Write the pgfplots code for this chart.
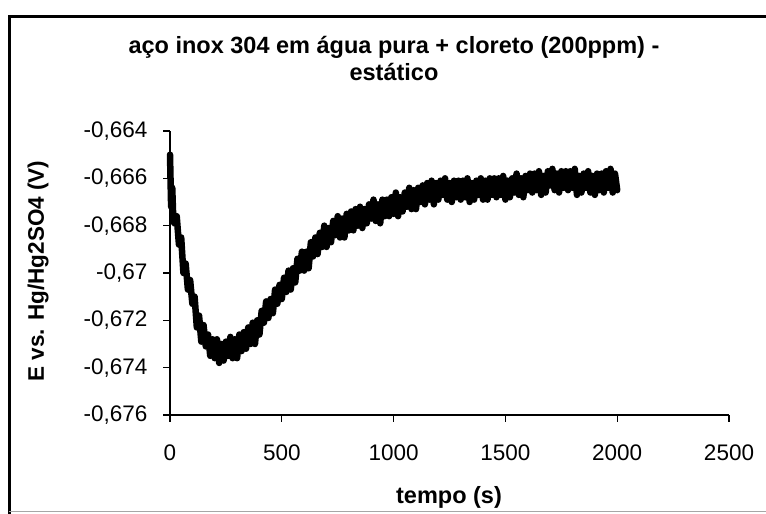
\documentclass[border=0pt]{standalone}
\usepackage{pgfplots}
\pgfplotsset{compat=1.18}
\usepackage{pgfplotstable}
\usepackage{fontspec}
\setmainfont{Liberation Sans}

\pgfplotstableread{
t V
0 -0.6650
5 -0.6672
10 -0.6664
15 -0.6678
20 -0.6679
30 -0.6676
40 -0.6688
50 -0.6685
60 -0.6700
70 -0.6696
80 -0.6707
90 -0.6703
100 -0.6713
110 -0.6710
120 -0.6723
130 -0.6718
140 -0.6729
150 -0.6722
160 -0.6731
170 -0.6726
180 -0.6735
190 -0.6728
200 -0.6736
210 -0.6728
220 -0.6738
230 -0.6730
240 -0.6737
250 -0.6729
260 -0.6735
270 -0.6727
280 -0.6736
290 -0.6728
300 -0.6736
310 -0.6726
320 -0.6733
330 -0.6725
340 -0.6732
350 -0.6723
360 -0.6730
370 -0.6721
380 -0.6730
390 -0.6720
400 -0.6726
410 -0.6716
420 -0.6721
430 -0.6712
440 -0.6719
450 -0.6711
460 -0.6717
470 -0.6707
480 -0.6713
490 -0.6705
500 -0.6711
510 -0.6702
520 -0.6708
530 -0.6699
540 -0.6707
550 -0.6698
560 -0.6704
570 -0.6694
580 -0.6699
590 -0.6691
600 -0.6699
610 -0.6691
620 -0.6698
630 -0.6687
640 -0.6693
650 -0.6685
660 -0.6692
670 -0.6683
680 -0.6689
690 -0.6680
700 -0.6689
710 -0.6681
720 -0.6687
730 -0.6678
740 -0.6684
750 -0.6676
760 -0.6685
770 -0.6677
780 -0.6685
790 -0.6675
800 -0.6682
810 -0.6674
820 -0.6682
830 -0.6673
840 -0.6680
850 -0.6672
860 -0.6681
870 -0.6673
880 -0.6679
890 -0.6671
900 -0.6677
910 -0.6669
920 -0.6678
930 -0.6671
940 -0.6679
950 -0.6669
960 -0.6676
970 -0.6669
980 -0.6676
990 -0.6668
1000 -0.6675
1010 -0.6666
1020 -0.6676
1030 -0.6668
1040 -0.6674
1050 -0.6666
1060 -0.6672
1070 -0.6664
1080 -0.6673
1090 -0.6665
1100 -0.6673
1110 -0.6664
1120 -0.6670
1130 -0.6663
1140 -0.6671
1150 -0.6662
1160 -0.6669
1170 -0.6661
1180 -0.6671
1190 -0.6662
1200 -0.6669
1210 -0.6661
1220 -0.6667
1230 -0.6660
1240 -0.6669
1250 -0.6662
1260 -0.6670
1270 -0.6661
1280 -0.6668
1290 -0.6661
1300 -0.6669
1310 -0.6661
1320 -0.6668
1330 -0.6660
1340 -0.6670
1350 -0.6662
1360 -0.6669
1370 -0.6661
1380 -0.6667
1390 -0.6660
1400 -0.6669
1410 -0.6661
1420 -0.6669
1430 -0.6660
1440 -0.6667
1450 -0.6660
1460 -0.6668
1470 -0.6660
1480 -0.6667
1490 -0.6659
1500 -0.6669
1510 -0.6661
1520 -0.6668
1530 -0.6660
1540 -0.6666
1550 -0.6658
1560 -0.6667
1570 -0.6660
1580 -0.6668
1590 -0.6659
1600 -0.6665
1610 -0.6658
1620 -0.6666
1630 -0.6658
1640 -0.6665
1650 -0.6657
1660 -0.6667
1670 -0.6659
1680 -0.6666
1690 -0.6657
1700 -0.6663
1710 -0.6656
1720 -0.6665
1730 -0.6658
1740 -0.6666
1750 -0.6657
1760 -0.6664
1770 -0.6657
1780 -0.6665
1790 -0.6657
1800 -0.6664
1810 -0.6656
1820 -0.6667
1830 -0.6659
1840 -0.6666
1850 -0.6658
1860 -0.6664
1870 -0.6657
1880 -0.6666
1890 -0.6659
1900 -0.6667
1910 -0.6658
1920 -0.6665
1930 -0.6658
1940 -0.6666
1950 -0.6657
1960 -0.6664
1970 -0.6656
1980 -0.6666
1990 -0.6658
2000 -0.6665
}\potdata

\begin{document}
\begin{tikzpicture}[x=1bp,y=1bp]
\useasboundingbox (0,0) rectangle (766,514);
\fill[white] (0,0) rectangle (766,514);
% chart frame
\draw[line width=3bp, black] (9,0) -- (9,497) -- (766,497);
\draw[line width=1bp, black!35] (9,2) -- (766,2);
% title
\node[align=center, font=\fontsize{23.5bp}{27bp}\selectfont\bfseries] at (394,455) {aço inox 304 em água pura + cloreto (200ppm) -\\estático};
% axis labels
\node[rotate=90, font=\fontsize{22.5bp}{26bp}\selectfont\bfseries] at (38,243) {E vs. Hg/Hg2SO4 (V)};
\node[font=\fontsize{23.5bp}{27bp}\selectfont\bfseries] at (449,17) {tempo (s)};
\begin{axis}[
  at={(170bp,99bp)}, anchor=south west,
  scale only axis, width=559bp, height=284bp,
  xmin=0, xmax=2500, ymin=-0.676, ymax=-0.664,
  axis x line=bottom, axis y line=left,
  axis line style={-, line width=1.6bp, black},
  xtick={0,500,1000,1500,2000,2500},
  ytick={-0.676,-0.674,-0.672,-0.670,-0.668,-0.666,-0.664},
  tick align=outside, major tick length=7bp,
  tick style={black, line width=1.2bp},
  /pgf/number format/assume math mode=true,
  xticklabel={\pgfmathprintnumber[fixed,precision=0,1000 sep={}]{\tick}},
  yticklabel={\pgfmathprintnumber[fixed,precision=3,use comma]{\tick}},
  ticklabel style={font=\fontsize{22.5bp}{26bp}\selectfont},
  xticklabel style={yshift=-19bp},
  yticklabel style={xshift=-12bp},
  clip=false,
]
\addplot[black, line width=6.5bp, line join=round, line cap=round, mark=none] table[x=t, y=V] {\potdata};
\end{axis}
\end{tikzpicture}
\end{document}
